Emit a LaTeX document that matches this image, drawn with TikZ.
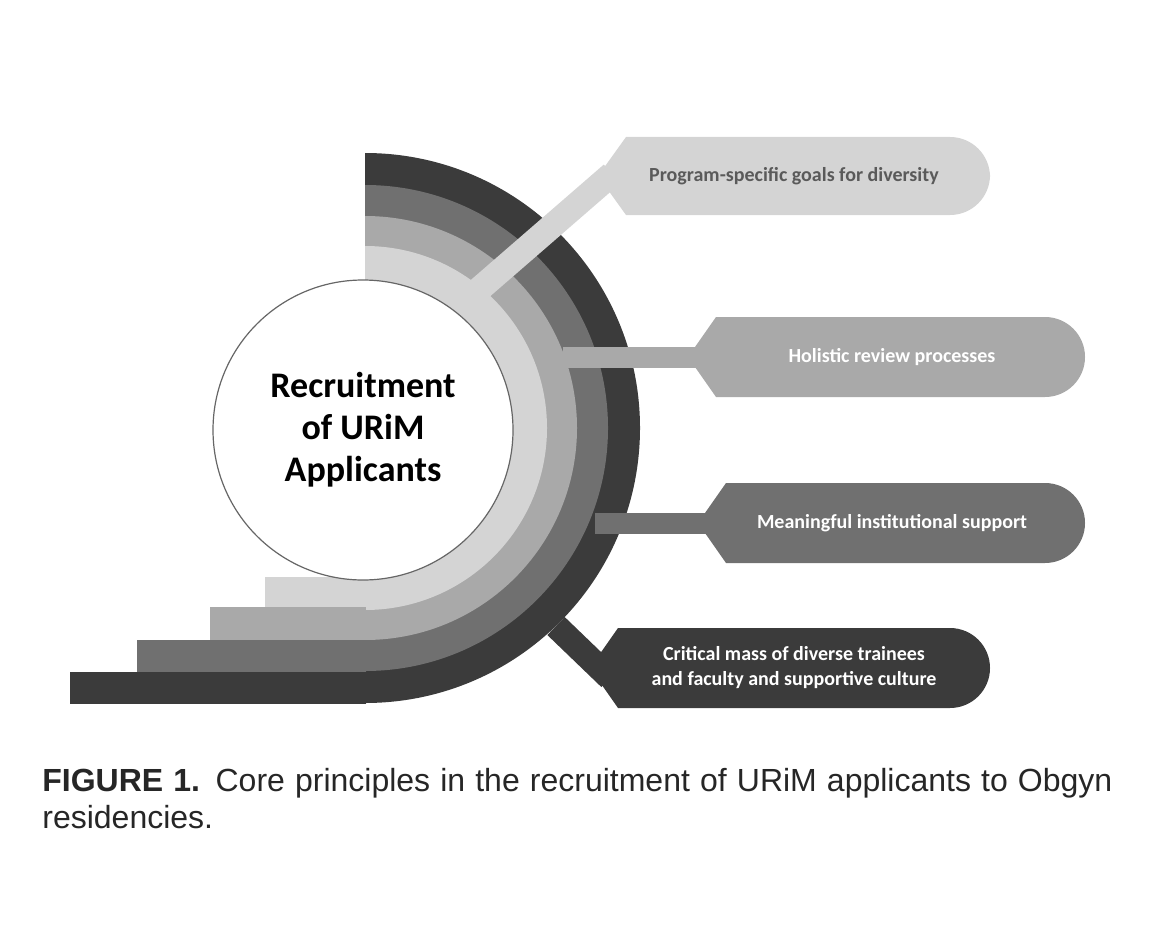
\documentclass[tikz,border=0pt]{standalone}
\usepackage{fontspec}
\setmainfont{Carlito}
\newfontfamily\capfont{Liberation Sans}
\definecolor{ringA}{HTML}{D4D4D4}
\definecolor{ringB}{HTML}{A9A9A9}
\definecolor{ringC}{HTML}{707070}
\definecolor{ringD}{HTML}{3B3B3B}
\definecolor{txtA}{HTML}{5A5A5A}
% callout: x0, x1, ytop, ybottom, colour
\newcommand\calloutbox[5]{%
  \fill[#5] (#1,{(#3+#4)/2}) -- (#1+28,#3) [rounded corners=20pt]-- (#2,#3) -- (#2,#4) [sharp corners]-- (#1+28,#4) -- cycle;}
\tikzset{
  boxtext/.style={font=\bfseries\fontsize{10}{12.5}\selectfont,align=center,text=white},
  bar/.style={line width=#1, line cap=butt},
}
\begin{document}
\begin{tikzpicture}[x=0.5pt,y=-0.5pt]
\useasboundingbox (0,0) rectangle (1170,936);
% rings
\begin{scope}
  \clip (365,100) rectangle (720,740);
  \fill[ringD] (365,428) circle[radius=137.5pt];
  \fill[ringC] (365,428) circle[radius=121.5pt];
  \fill[ringB] (365,428) circle[radius=106pt];
  \fill[ringA] (365,428) circle[radius=91pt];
\end{scope}
% steps
\fill[ringD] (70,672) rectangle (366,704);
\fill[ringC] (137,640) rectangle (366,672);
\fill[ringB] (210,607) rectangle (366,640);
\fill[ringA] (265,577) rectangle (366,607);
% centre
\node[circle,draw=black!60,line width=0.6pt,fill=white,minimum size=150pt,inner sep=0pt,
  font=\bfseries\fontsize{18}{21}\selectfont,align=center] (core) at (363,430)
  {Recruitment\\of URiM\\Applicants};
% connectors
\coordinate (s1) at (476,292);
\coordinate (s2) at (563,357);
\coordinate (s3) at (595,523);
\coordinate (s4) at (556,626);
\draw[bar=12.5pt,ringA] (s1) -- (612,174);
\draw[bar=10.5pt,ringB] (s2) -- (700,357);
\draw[bar=10.5pt,ringC] (s3) -- (710,523);
\draw[bar=12.5pt,ringD] (s4) -- (610,678);
% boxes
\calloutbox{598}{990}{137}{215}{ringA}
\calloutbox{688}{1085}{317}{397}{ringB}
\calloutbox{698}{1085}{483}{563}{ringC}
\calloutbox{590}{990}{628}{708}{ringD}
\node[boxtext,text=txtA] (g1) at (794,176) {Program-specific goals for diversity};
\node[boxtext] (g2) at (892,357) {Holistic review processes};
\node[boxtext] (g3) at (892,523) {Meaningful institutional support};
\node[boxtext] (g4) at (794,668) {Critical mass of diverse trainees\\and faculty and supportive culture};
% caption
\node[anchor=north west,inner sep=0pt,text width=535pt,align=justify,
  font=\capfont\fontsize{16}{18.5}\selectfont,text=black!85] (cap) at (42,768)
  {\textbf{FIGURE 1.} Core principles in the recruitment of URiM applicants to Obgyn residencies.};
\end{tikzpicture}
\end{document}
